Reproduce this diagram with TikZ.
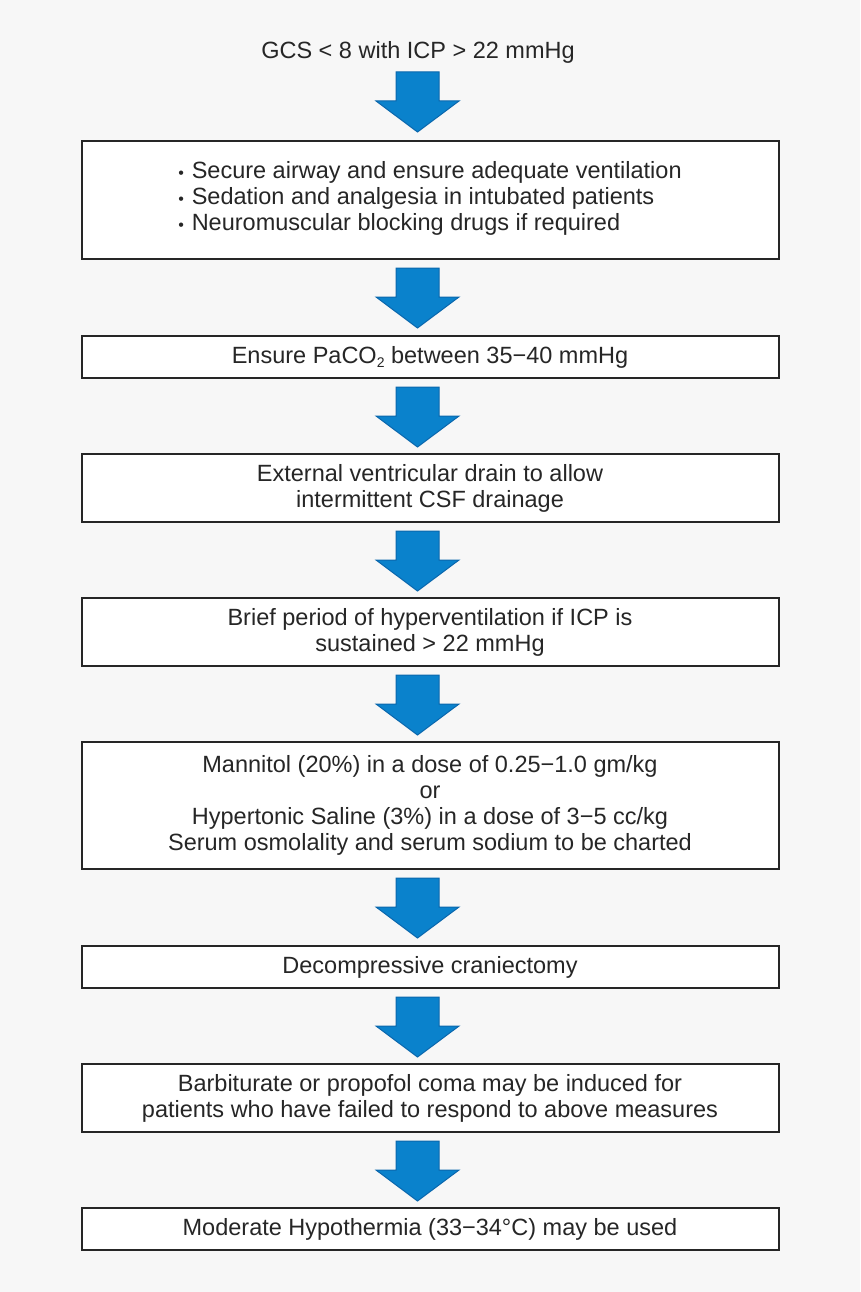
\documentclass[tikz,border=0pt]{standalone}
\usepackage{fontspec}
\setmainfont{Liberation Sans}
\begin{document}
\begin{tikzpicture}[x=1pt,y=-1pt,
  box/.style={draw=black!85,line width=1.2pt,fill=white},
  txt/.style={font=\fontsize{23.5}{26}\selectfont,color=black!85,align=center},
  arr/.style={fill=arrfill,draw=arrline,line width=1pt,line join=miter}]
\definecolor{arrfill}{HTML}{0A82CC}
\definecolor{arrline}{HTML}{0A67AD}
\fill[black!3] (0,0) rectangle (860,1292);
\useasboundingbox (0,0) rectangle (860,1292);
\newcommand\downarr[1]{\draw[arr] (396,#1) -- (439,#1) -- (439,#1+29) -- (459,#1+29) -- (417.5,#1+60) -- (376,#1+29) -- (396,#1+29) -- cycle;}
\node[txt] (t) at (418,52) {GCS < 8 with ICP > 22 mmHg};
\foreach \y in {72,268,387,531,675,878,997,1141} {\downarr{\y}}
\draw[box] (82,141) rectangle (779,259);
\draw[box] (82,336) rectangle (779,378);
\draw[box] (82,454) rectangle (779,522);
\draw[box] (82,598) rectangle (779,666);
\draw[box] (82,742) rectangle (779,869);
\draw[box] (82,946) rectangle (779,988);
\draw[box] (82,1064) rectangle (779,1132);
\draw[box] (82,1208) rectangle (779,1250);
\node[txt,align=left] (b1) at (430,198) {{\fontsize{16}{26}\selectfont•}\,\,Secure airway and ensure adequate ventilation\\{\fontsize{16}{26}\selectfont•}\,\,Sedation and analgesia in intubated patients\\{\fontsize{16}{26}\selectfont•}\,\,Neuromuscular blocking drugs if required};
\node[txt] (b2) at (430,357) {Ensure PaCO{\fontsize{14}{14}\selectfont\raisebox{-4pt}{2}} between 35\textminus40 mmHg};
\node[txt] (b3) at (430,488) {External ventricular drain to allow\\intermittent CSF drainage};
\node[txt] (b4) at (430,632) {Brief period of hyperventilation if ICP is\\sustained > 22 mmHg};
\node[txt] (b5) at (430,805) {Mannitol (20\%) in a dose of 0.25\textminus1.0 gm/kg\\or\\Hypertonic Saline (3\%) in a dose of 3\textminus5 cc/kg\\Serum osmolality and serum sodium to be charted};
\node[txt] (b6) at (430,967) {Decompressive craniectomy};
\node[txt] (b7) at (430,1098) {Barbiturate or propofol coma may be induced for\\patients who have failed to respond to above measures};
\node[txt] (b8) at (430,1229) {Moderate Hypothermia (33\textminus34°C) may be used};
\end{tikzpicture}
\end{document}
